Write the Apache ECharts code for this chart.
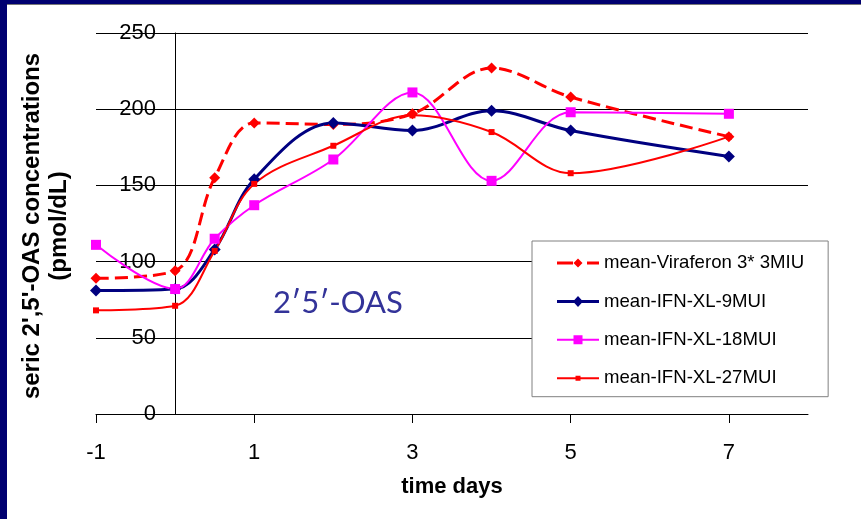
<!DOCTYPE html>
<html>
<head>
<meta charset="utf-8">
<script src="https://cdn.jsdelivr.net/npm/echarts@6/dist/echarts.min.js"></script>
<style>
html, body {
  margin: 0;
  padding: 0;
  background: #fff;
}
#chart {
  width: 861px;
  height: 519px;
}
</style>
</head>
<body>
<div id="chart"></div>
<script>
// time points (days) and series values
var days = [-1, 0, 0.5, 1, 2, 3, 4, 5, 7]
var viraferon = [89, 94, 155, 191, 190, 197, 227, 208, 182]
var ifn9 = [81, 82, 108, 154, 191, 186, 199, 186, 169]
var ifn18 = [111, 82, 115, 137, 167, 211, 153, 198, 197]
var ifn27 = [68, 71, 107, 151, 176, 196, 185, 158, 182]
var xTicks = [-1, 1, 3, 5, 7]
var names = ['mean-Viraferon 3* 3MIU', 'mean-IFN-XL-9MUI', 'mean-IFN-XL-18MUI', 'mean-IFN-XL-27MUI']

function pairs (vals) {
  return vals.map((v, i) => [days[i], v])
}

var font = '"Liberation Sans", Arial, sans-serif'
var chart = echarts.init(document.getElementById('chart'))

// legend icons: line sample with the marker drawn in (42 x 14 box)
var legendIcons = [
  'path://M0,5.5H16V8.5H0Z M30,5.5H42V8.5H30Z M21,2.5L25.5,7L21,11.5L16.5,7Z',
  'path://M0,5.5H42V8.5H0Z M21,1.5L26,7L21,12.5L16,7Z',
  'path://M0,6H42V8H0Z M16.5,2.5H25.5V11.5H16.5Z',
  'path://M0,6H42V8H0Z M18.5,4.5H23.5V9.5H18.5Z'
]

var option = {
  animation: false,
  backgroundColor: '#fff',
  textStyle: { fontFamily: font },
  grid: { left: 96, right: 53, top: 33, bottom: 105 },
  legend: {
    orient: 'vertical',
    left: 532,
    top: 241,
    padding: [12.5, 24, 9, 25],
    itemGap: 19.4,
    itemWidth: 42,
    itemHeight: 14,
    symbolKeepAspect: true,
    backgroundColor: '#fff',
    borderColor: '#808080',
    borderWidth: 1,
    textStyle: { fontSize: 18.6, color: '#000', fontFamily: font },
    data: names.map((n, i) => ({ name: n, icon: legendIcons[i] }))
  },
  xAxis: {
    type: 'value',
    min: -1,
    max: 8,
    name: 'time days',
    nameLocation: 'middle',
    nameGap: 62,
    nameTextStyle: { fontSize: 22, fontWeight: 'bold', color: '#000', fontFamily: font },
    splitLine: { show: false },
    axisLine: { lineStyle: { color: '#000', width: 1 } },
    axisTick: { customValues: xTicks, length: 9, lineStyle: { color: '#000' } },
    axisLabel: { customValues: xTicks, margin: 28, fontSize: 22, color: '#000', fontFamily: font }
  },
  yAxis: {
    type: 'value',
    min: 0,
    max: 250,
    interval: 50,
    offset: -79,
    axisLine: { show: true, onZero: false, lineStyle: { color: '#000', width: 1 } },
    axisTick: { show: true, length: 8, lineStyle: { color: '#000' } },
    axisLabel: { margin: 19, fontSize: 22, color: '#000', fontFamily: font },
    splitLine: { lineStyle: { color: '#000', width: 1 } }
  },
  graphic: [
    { type: 'rect', left: 0, top: 0, shape: { width: 7, height: 519 }, style: { fill: '#000070' }, z: 100 },
    { type: 'rect', left: 0, top: 0, shape: { width: 861, height: 4 }, style: { fill: '#000070' }, z: 100 },
    { type: 'rect', left: 7, top: 4, shape: { width: 854, height: 1 }, style: { fill: '#777' }, z: 100 },
    {
      type: 'text',
      x: 46,
      y: 226,
      rotation: Math.PI / 2,
      style: {
        text: 'seric 2\',5\'-OAS concentrations\n(pmol/dL)',
        font: 'bold 24px ' + font,
        fill: '#000',
        align: 'center',
        verticalAlign: 'middle',
        lineHeight: 27
      }
    },
    {
      type: 'text',
      x: 338,
      y: 303,
      style: {
        text: '2\u20325\u2032-OAS',
        font: '31px Lato, "Open Sans", sans-serif',
        fill: '#333399',
        align: 'center',
        verticalAlign: 'middle'
      }
    }
  ],
  series: [
    {
      name: names[0],
      type: 'line',
      smooth: 0.35,
      data: pairs(viraferon),
      symbol: 'diamond',
      symbolSize: 11,
      lineStyle: { color: '#FF0000', width: 3, type: [13, 6] },
      itemStyle: { color: '#FF0000' }
    },
    {
      name: names[1],
      type: 'line',
      smooth: 0.35,
      data: pairs(ifn9),
      symbol: 'diamond',
      symbolSize: 12,
      lineStyle: { color: '#000080', width: 3 },
      itemStyle: { color: '#000080' }
    },
    {
      name: names[2],
      type: 'line',
      smooth: 0.35,
      data: pairs(ifn18),
      symbol: 'rect',
      symbolSize: 10,
      lineStyle: { color: '#FF00FF', width: 2 },
      itemStyle: { color: '#FF00FF' }
    },
    {
      name: names[3],
      type: 'line',
      smooth: 0.35,
      data: pairs(ifn27),
      symbol: 'rect',
      symbolSize: 6,
      lineStyle: { color: '#FF0000', width: 2 },
      itemStyle: { color: '#FF0000' }
    }
  ]
}
chart.setOption(option)
</script>
</body>
</html>
